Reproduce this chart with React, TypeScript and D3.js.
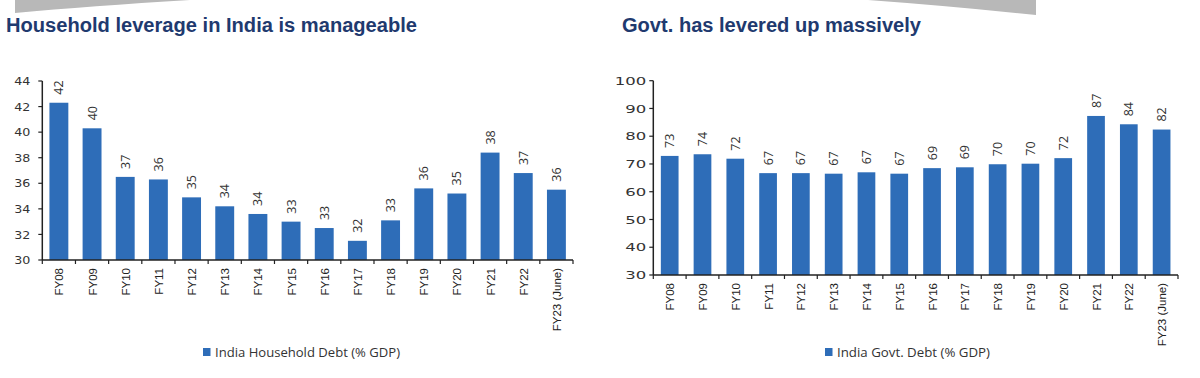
import React from "react";
import * as d3 from "d3";

const categories = ["FY08","FY09","FY10","FY11","FY12","FY13","FY14","FY15","FY16","FY17","FY18","FY19","FY20","FY21","FY22","FY23 (June)"];
const householdDebt = [42.3,40.3,36.5,36.3,34.9,34.2,33.6,33.0,32.5,31.5,33.1,35.6,35.2,38.4,36.8,35.5];
const govtDebt = [72.9,73.5,71.9,66.7,66.7,66.5,67.0,66.5,68.5,68.8,69.9,70.1,72.1,87.3,84.3,82.4];
const householdTicks = [30,32,34,36,38,40,42,44];
const govtTicks = [30,40,50,60,70,80,90,100];
const householdTitle = "Household leverage in India is manageable";
const govtTitle = "Govt. has levered up massively";
const householdLegend = "India Household Debt (% GDP)";
const govtLegend = "India Govt. Debt (% GDP)";

const BAR = "#2E6DB8";
const NAVY = "#1F3A6F";
const AXIS = "#222";
const TXT = "#333";

type PanelProps = {
  values: number[];
  ticks: number[];
  x0: number; x1: number; yTop: number; yBot: number;
  pad: number; tickScale: number; tickGap: number;
  title: string; titleX: number; titleLen: number;
  legend: string; legendX: number; legendLen: number;
  labelTop: number;
};

function Panel(p: PanelProps) {
  const x = d3.scaleBand<string>().domain(categories).range([p.x0, p.x1]).paddingInner(p.pad).paddingOuter(p.pad / 2);
  const y = d3.scaleLinear().domain([p.ticks[0], p.ticks[p.ticks.length - 1]]).range([p.yBot, p.yTop]);
  const step = x.step();
  return (
    <g>
      <text x={p.titleX} y={32} fontFamily="Liberation Sans, Arial, sans-serif" fontWeight="bold" fontSize={20} fill={NAVY} textLength={p.titleLen} lengthAdjust="spacingAndGlyphs">{p.title}</text>
      {p.values.map((v, i) => (
        <rect key={"b" + i} x={x(categories[i])} y={y(v)} width={x.bandwidth()} height={p.yBot - y(v)} fill={BAR} />
      ))}
      {p.values.map((v, i) => {
        const cx = (x(categories[i]) as number) + x.bandwidth() / 2;
        const ty = y(v) - 8;
        return (
          <text key={"v" + i} transform={`translate(${cx + 4.5},${ty}) rotate(-90)`} fontFamily="Open Sans, sans-serif" fontSize={12.5} fill={TXT}>{d3.format(".0f")(v)}</text>
        );
      })}
      <line x1={p.x0} x2={p.x0} y1={p.yTop} y2={p.yBot} stroke={AXIS} strokeWidth={1.5} />
      <line x1={p.x0} x2={p.x1} y1={p.yBot} y2={p.yBot} stroke={AXIS} strokeWidth={1.5} />
      {p.ticks.map((t) => (
        <g key={"t" + t}>
          <line x1={p.x0 - 4} x2={p.x0} y1={y(t)} y2={y(t)} stroke={AXIS} strokeWidth={1.2} />
          <text transform={`translate(${p.x0 - p.tickGap},${y(t) + 4.2}) scale(${p.tickScale},1)`} textAnchor="end" fontFamily="DejaVu Sans, sans-serif" fontSize={11} fill={TXT}>{t}</text>
        </g>
      ))}
      {d3.range(categories.length + 1).map((i) => (
        <line key={"xt" + i} x1={p.x0 + i * step} x2={p.x0 + i * step} y1={p.yBot} y2={p.yBot + 4} stroke={AXIS} strokeWidth={1.2} />
      ))}
      {categories.map((c) => {
        const cx = (x(c) as number) + x.bandwidth() / 2;
        return (
          <text key={"l" + c} transform={`translate(${cx + 4.5},${p.labelTop}) rotate(-90)`} textAnchor="end" fontFamily="Liberation Sans, Arial, sans-serif" fontSize={11.5} fill="#222">{c}</text>
        );
      })}
      <rect x={p.legendX} y={348} width={7.5} height={8} fill={BAR} />
      <text x={p.legendX + 12} y={356.5} fontFamily="Open Sans, sans-serif" fontSize={13} fill={TXT} textLength={p.legendLen} lengthAdjust="spacingAndGlyphs">{p.legend}</text>
    </g>
  );
}

export default function App() {
  return (
    <svg width={1200} height={378} style={{ position: "absolute", left: 0, top: 0, background: "#fff" }}>
      <rect x={0} y={0} width={1200} height={378} fill="#fff" />
      <path d="M15,0 L15,13 Q90,6 190,0 Z" fill="#b8b8b8" />
      <path d="M868,0 Q950,6 1036,15 L1036,0 Z" fill="#b8b8b8" />
      <Panel values={householdDebt} ticks={householdTicks} x0={42.3} x1={573} yTop={81} yBot={260}
        pad={0.43} tickScale={1.15} tickGap={12} title={householdTitle} titleX={6} titleLen={411}
        legend={householdLegend} legendX={203} legendLen={185} labelTop={268} />
      <Panel values={govtDebt} ticks={govtTicks} x0={653.3} x1={1178} yTop={80.7} yBot={275}
        pad={0.46} tickScale={1.5} tickGap={7} title={govtTitle} titleX={622} titleLen={299}
        legend={govtLegend} legendX={825} legendLen={153} labelTop={283} />
    </svg>
  );
}
